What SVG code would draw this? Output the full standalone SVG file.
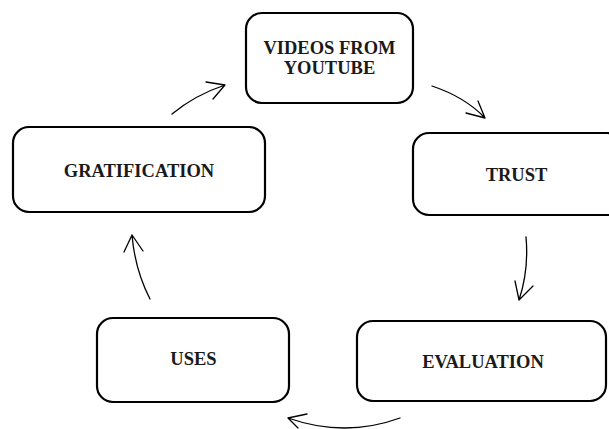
<svg xmlns="http://www.w3.org/2000/svg" width="609" height="429" viewBox="0 0 609 429">
<style>
.box{fill:#fff;stroke:#000;stroke-width:2.2}
.lbl{font-family:"Liberation Serif","Times New Roman",serif;font-weight:bold;font-size:18.5px;fill:#1a1a1a;text-anchor:middle}
.arr{fill:none;stroke:#000;stroke-width:1.3;stroke-linecap:round;stroke-linejoin:round}
</style>
<rect width="609" height="429" fill="#fff"/>
<g id="videos"><rect class="box" x="246" y="13" width="167" height="90" rx="16"/><text class="lbl" x="329.5" y="54">VIDEOS FROM</text><text class="lbl" x="329.5" y="74">YOUTUBE</text></g>
<g id="trust"><rect class="box" x="413" y="133" width="210" height="82" rx="16"/><text class="lbl" x="516.5" y="181">TRUST</text></g>
<g id="evaluation"><rect class="box" x="357" y="321" width="249" height="80" rx="16"/><text class="lbl" x="483" y="368">EVALUATION</text></g>
<g id="uses"><rect class="box" x="97" y="318" width="192" height="84" rx="16"/><text class="lbl" x="193.5" y="365">USES</text></g>
<g id="gratification"><rect class="box" x="13" y="127" width="252" height="85" rx="16"/><text class="lbl" x="139" y="177">GRATIFICATION</text></g>
<g id="connectors">
<path class="arr" d="M172,114 Q195,95 225,85 M206,82 L225,85 L213,99"/>
<path class="arr" d="M432,86 Q465,97 485,118 M466,113 L485,118 L478,101"/>
<path class="arr" d="M526,237 Q529,270 519,300 M515,281 L519,300 L533,286"/>
<path class="arr" d="M400,418 Q345,438 288,418 M307,414 L288,418 L298,428"/>
<path class="arr" d="M150,299 Q135,270 132,235 M124,252 L132,235 L143,251"/>
</g>
</svg>
